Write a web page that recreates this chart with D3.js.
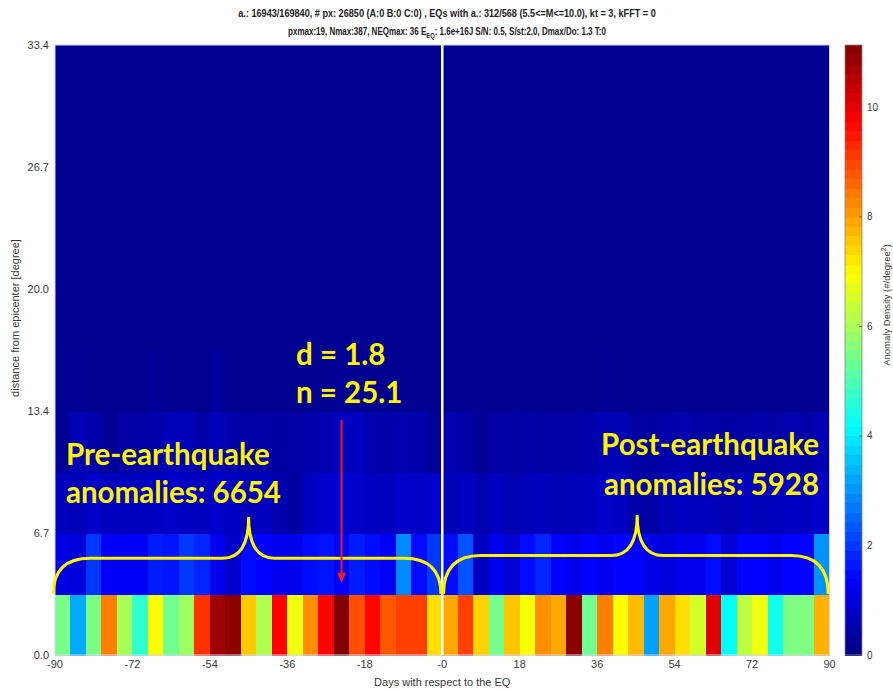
<!DOCTYPE html>
<html>
<head>
<meta charset="utf-8">
<script src="https://cdn.jsdelivr.net/npm/d3@7"></script>
<style>body{margin:0;background:#fff}</style>
</head>
<body>
<svg width="893" height="689"></svg>
<script>
// anomaly density per 3.6-day bin, -90..90 days (50 bins), one array per distance ring
const densityRow1 = [5.5, 3.25, 5.5, 8.35, 6.0, 4.7, 6.96, 5.4, 5.9, 9.2, 10.8, 11.0, 7.55, 6.1, 9.75, 6.8, 8.2, 9.7, 11.14, 8.9, 9.7, 8.8, 9.05, 9.05, 7.3,
                     7.9, 9.05, 7.45, 5.45, 7.6, 6.9, 8.2, 7.9, 11.0, 5.4, 8.35, 6.96, 7.7, 3.15, 7.9, 7.3, 6.5, 10.1, 4.18, 6.25, 6.8, 4.35, 5.55, 5.55, 7.8];
const densityRow2 = [1.1, 1.0, 2.0, 1.3, 1.3, 1.3, 1.7, 1.6, 2.0, 1.8, 1.2, 0.8, 1.5, 1.4, 1.2, 1.2, 1.5, 1.6, 1.3, 1.7, 1.5, 1.3, 2.9, 1.5, 2.0,
                     1.5, 2.3, 0.7, 1.2, 0.9, 1.5, 1.8, 1.4, 1.2, 1.4, 1.2, 1.4, 1.4, 1.1, 1.0, 1.2, 1.2, 1.5, 0.9, 1.4, 1.4, 1.2, 1.4, 1.4, 3.0];
const densityRow3 = [0.68, 0.63, 0.79, 0.68, 0.68, 0.68, 0.74, 0.79, 0.74, 0.68, 0.79, 0.74, 0.63, 0.68, 0.52, 0.36, 0.74, 0.85, 0.90, 0.79, 0.74, 0.68, 0.79, 0.79, 0.85,
                     0.63, 0.74, 0.52, 0.68, 0.52, 0.63, 0.68, 0.57, 0.63, 0.68, 0.79, 0.74, 0.46, 0.41, 0.63, 0.74, 0.68, 0.63, 0.52, 0.68, 0.63, 0.68, 0.74, 0.68, 0.79];
const densityRow4 = [0.25, 0.57, 0.46, 0.25, 0.41, 0.41, 0.46, 0.63, 0.63, 0.46, 0.63, 0.46, 0.41, 0.41, 0.36, 0.41, 0.46, 0.52, 0.68, 0.68, 0.52, 0.46, 0.52, 0.46, 0.25,
                     0.52, 0.46, 0.25, 0.41, 0.41, 0.46, 0.41, 0.41, 0.41, 0.46, 0.57, 0.57, 0.41, 0.36, 0.46, 0.52, 0.41, 0.41, 0.36, 0.41, 0.46, 0.41, 0.52, 0.41, 0.57];
const densityRow5 = [0.19, 0.25, 0.19, 0.19, 0.19, 0.19, 0.25, 0.19, 0.19, 0.19, 0.35, 0.19, 0.19, 0.19, 0.19, 0.19, 0.19, 0.19, 0.25, 0.19, 0.19, 0.19, 0.19, 0.19, 0.19,
                     0.19, 0.19, 0.19, 0.19, 0.19, 0.19, 0.19, 0.19, 0.19, 0.19, 0.22, 0.19, 0.19, 0.19, 0.19, 0.19, 0.19, 0.19, 0.19, 0.19, 0.19, 0.19, 0.19, 0.19, 0.19];
const farFieldDensity = 0.19;   // 16.7 .. 33.4 degrees, flat

const rowEdges = [0, 3.34, 6.68, 10.02, 13.36, 16.7];
const binDays = 3.6;
const colorMax = 11.14;

const dayTicks = [-90, -72, -54, -36, -18, 0, 18, 36, 54, 72, 90];
const dayTickLabels = ["-90", "-72", "-54", "-36", "-18", "-0", "18", "36", "54", "72", "90"];
const distTicks = [0, 6.68, 13.36, 20.04, 26.72, 33.4];
const distTickLabels = ["0.0", "6.7", "13.4", "20.0", "26.7", "33.4"];
const cbTicks = [0, 2, 4, 6, 8, 10];

const svg = d3.select("svg");
const margin = {left: 55, right: 63.5, top: 45, bottom: 34};
const W = 893, H = 689;

const x = d3.scaleLinear().domain([-90, 90]).range([margin.left, W - margin.right]);
const y = d3.scaleLinear().domain([0, 33.4]).range([H - margin.bottom, margin.top]);

function jet(t) {
  const c = v => Math.max(0, Math.min(1, v));
  return d3.rgb(255 * c(1.5 - Math.abs(4 * t - 3)),
                255 * c(1.5 - Math.abs(4 * t - 2)),
                255 * c(1.5 - Math.abs(4 * t - 1))).toString();
}
const color = d3.scaleSequential(jet).domain([0, colorMax]);

// heatmap
const heat = svg.append("g").attr("shape-rendering", "crispEdges");
heat.append("rect")
  .attr("x", x(-90)).attr("width", x(90) - x(-90))
  .attr("y", y(33.4)).attr("height", y(rowEdges[5]) - y(33.4) + 0.5)
  .attr("fill", color(farFieldDensity));

const rows = [densityRow1, densityRow2, densityRow3, densityRow4, densityRow5];
rows.forEach((row, r) => {
  heat.selectAll(null).data(row).enter().append("rect")
    .attr("x", (d, i) => x(-90 + i * binDays))
    .attr("width", x(binDays) - x(0) + 0.6)
    .attr("y", y(rowEdges[r + 1]))
    .attr("height", y(rowEdges[r]) - y(rowEdges[r + 1]) + 0.6)
    .attr("fill", d => color(d));
});

// faint frame
svg.append("rect")
  .attr("x", x(-90)).attr("y", y(33.4))
  .attr("width", x(90) - x(-90)).attr("height", y(0) - y(33.4))
  .attr("fill", "none").attr("stroke", "#d4d4f4").attr("stroke-width", 1);

// event line
svg.append("line")
  .attr("x1", x(0)).attr("x2", x(0))
  .attr("y1", y(33.4)).attr("y2", y(0))
  .attr("stroke", "#fff").attr("stroke-width", 2.5);

// axes labels
const axisFont = "'Liberation Sans', Arial, sans-serif";
svg.append("g").selectAll("text").data(dayTicks).enter().append("text")
  .attr("x", d => x(d)).attr("y", 668)
  .attr("text-anchor", "middle")
  .attr("font-family", axisFont).attr("font-size", 11).attr("fill", "#3a3a3a")
  .text((d, i) => dayTickLabels[i]);

svg.append("g").selectAll("text").data(distTicks).enter().append("text")
  .attr("x", 49).attr("y", d => y(d) + 4)
  .attr("text-anchor", "end")
  .attr("font-family", axisFont).attr("font-size", 11).attr("fill", "#3a3a3a")
  .text((d, i) => distTickLabels[i]);

svg.append("text")
  .attr("x", x(0)).attr("y", 686)
  .attr("text-anchor", "middle")
  .attr("font-family", axisFont).attr("font-size", 11).attr("fill", "#3a3a3a")
  .text("Days with respect to the EQ");

svg.append("text")
  .attr("transform", `translate(19, ${(y(0) + y(33.4)) / 2 - 32}) rotate(-90)`)
  .attr("text-anchor", "middle")
  .attr("font-family", axisFont).attr("font-size", 11).attr("fill", "#3a3a3a")
  .text("distance from epicenter [degree]");

// title: narrow bold font squeezed horizontally to the reference width
function titleLine(yPos, width, build) {
  const g = svg.append("g").attr("transform", `translate(447, ${yPos})`);
  const t = g.append("text")
    .attr("font-family", axisFont).attr("font-weight", "bold")
    .attr("font-size", 11).attr("fill", "#222").attr("text-anchor", "middle");
  build(t);
  const natural = t.node().getBBox().width;
  g.attr("transform", `translate(447, ${yPos}) scale(${width / natural}, 1)`);
}
titleLine(17, 418, t => t.text("a.: 16943/169840, # px: 26850 (A:0 B:0 C:0) , EQs with a.: 312/568 (5.5<=M<=10.0), kt = 3, kFFT = 0"));
titleLine(35, 318, t => {
  t.append("tspan").text("pxmax:19, Nmax:387, NEQmax: 36 E");
  t.append("tspan").attr("dy", 3).attr("font-size", 8).text("EQ");
  t.append("tspan").attr("dy", -3).text(": 1.6e+16J S/N: 0.5, S/st:2.0, Dmax/Do: 1.3 T:0");
});

// colorbar
const cb = {x: 845, w: 17};
const cy = d3.scaleLinear().domain([0, colorMax]).range([y(0), y(33.4)]);
const steps = d3.range(64);
svg.append("g").attr("shape-rendering", "crispEdges").selectAll("rect").data(steps).enter().append("rect")
  .attr("x", cb.x).attr("width", cb.w)
  .attr("y", d => cy((d + 1) * colorMax / 64))
  .attr("height", cy(0) - cy(colorMax / 64) + 0.6)
  .attr("fill", d => color((d + 0.5) * colorMax / 64));
svg.append("rect").attr("x", cb.x).attr("y", cy(colorMax)).attr("width", cb.w)
  .attr("height", cy(0) - cy(colorMax)).attr("fill", "none").attr("stroke", "#888").attr("stroke-width", 0.8);
const cbg = svg.append("g");
cbg.selectAll("line").data(cbTicks).enter().append("line")
  .attr("x1", cb.x + cb.w - 3).attr("x2", cb.x + cb.w)
  .attr("y1", d => cy(d)).attr("y2", d => cy(d))
  .attr("stroke", "#555").attr("stroke-width", 0.8);
cbg.selectAll("text").data(cbTicks).enter().append("text")
  .attr("x", cb.x + cb.w + 5).attr("y", d => cy(d) + 3.5)
  .attr("font-family", axisFont).attr("font-size", 10).attr("fill", "#3a3a3a")
  .text(d => d);
const cbLabel = svg.append("text")
  .attr("transform", `translate(890, 305) rotate(-90)`)
  .attr("text-anchor", "middle")
  .attr("font-family", axisFont).attr("font-size", 9.5).attr("fill", "#3a3a3a");
cbLabel.append("tspan").text("Anomaly Density (#/degree");
cbLabel.append("tspan").attr("dy", -4).attr("font-size", 7).text("2");
cbLabel.append("tspan").attr("dy", 4).text(")");

// annotations
const yellow = "#fff500";
function brace(from, to, tip, yBase, yBar, yTip) {
  const x0 = x(from), x1 = x(to), xm = x(tip);
  const yb = y(yBase), yh = y(yBar), yt = y(yTip);
  return `M${x0},${yb} Q${x0},${yh} ${x0 + 37},${yh} L${xm - 26},${yh} Q${xm},${yh} ${xm},${yt}` +
         ` Q${xm},${yh} ${xm + 26},${yh} L${x1 - 37},${yh} Q${x1},${yh} ${x1},${yb}`;
}
svg.append("path").attr("d", brace(-90.4, -0.3, -45, 3.34, 5.3, 7.56))
  .attr("fill", "none").attr("stroke", yellow).attr("stroke-width", 3);
svg.append("path").attr("d", brace(0.3, 89.7, 45.3, 3.34, 5.45, 7.67))
  .attr("fill", "none").attr("stroke", yellow).attr("stroke-width", 3);

const arrowX = x(-90 + 18.5 * binDays);
svg.append("line").attr("x1", arrowX).attr("x2", arrowX)
  .attr("y1", y(12.87)).attr("y2", y(4.5))
  .attr("stroke", "#ee1c1c").attr("stroke-width", 2);
svg.append("path")
  .attr("d", `M${arrowX - 4.5},${y(4.5)} L${arrowX + 4.5},${y(4.5)} L${arrowX},${y(3.94)} Z`)
  .attr("fill", "#ee1c1c");

const annFont = "Lato, 'Open Sans', sans-serif";
const ann = svg.append("g").attr("font-family", annFont).attr("font-weight", "bold")
  .attr("font-size", 29.5).attr("fill", yellow);
ann.append("text").attr("x", 296).attr("y", 365).text("d = 1.8");
ann.append("text").attr("x", 296).attr("y", 403).text("n = 25.1");
ann.append("text").attr("x", 66).attr("y", 465).text("Pre-earthquake");
ann.append("text").attr("x", 66).attr("y", 503).text("anomalies: 6654");
ann.append("text").attr("x", 819).attr("y", 455).attr("text-anchor", "end").text("Post-earthquake");
ann.append("text").attr("x", 819).attr("y", 495).attr("text-anchor", "end").text("anomalies: 5928");
</script>
</body>
</html>
